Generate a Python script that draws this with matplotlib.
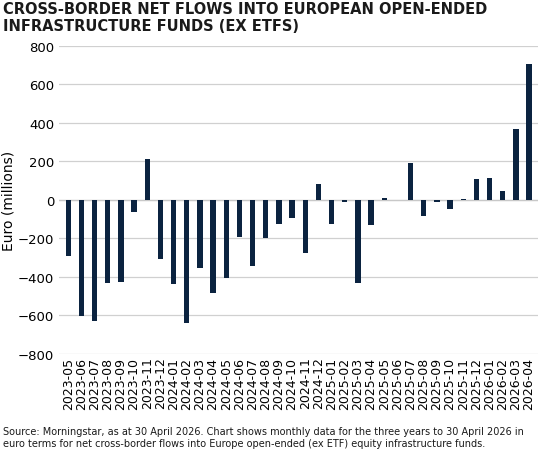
import matplotlib.pyplot as plt
import pandas as pd

months = pd.period_range("2023-05", "2026-04", freq="M").strftime("%Y-%m").tolist()
flows = [-290, -605, -630, -435, -430, -65, 210, -310, -440, -640, -355, -485,
         -405, -195, -345, -200, -125, -95, -275, 80, -125, -10, -435, -130,
         10, -2, 190, -85, -10, -50, 2, 105, 112, 47, 365, 705]

fig = plt.figure(figsize=(5.47, 4.56), dpi=100)
ax = fig.add_axes([0.108, 0.222, 0.876, 0.676])

ax.bar(range(len(months)), flows, width=0.4, color="#0b2340", zorder=3)
ax.set_ylim(-800, 800)
ax.set_yticks(range(-800, 801, 200))
ax.set_xlim(-0.7, len(months) - 0.3)
ax.set_xticks(range(len(months)))
ax.set_xticklabels(months, rotation=90, fontsize=9)
ax.tick_params(axis="y", labelsize=9.5, length=0)
ax.tick_params(axis="x", length=0, pad=2)
ax.grid(axis="y", color="#d0d0d0", linewidth=0.9, zorder=0)
for s in ax.spines.values():
    s.set_visible(False)
ax.axhline(0, color="#c8c8c8", linewidth=0.9, zorder=2)
ax.set_ylabel("Euro (millions)", fontsize=10, labelpad=2)

fig.text(0.005, 0.995, "CROSS-BORDER NET FLOWS INTO EUROPEAN OPEN-ENDED\nINFRASTRUCTURE FUNDS (EX ETFS)",
         fontsize=10.5, fontweight="bold", va="top", ha="left", color="#1a1a1a", linespacing=1.15)
fig.text(0.005, 0.015, "Source: Morningstar, as at 30 April 2026. Chart shows monthly data for the three years to 30 April 2026 in\n"
         "euro terms for net cross-border flows into Europe open-ended (ex ETF) equity infrastructure funds.",
         fontsize=7, va="bottom", ha="left", color="#1a1a1a", linespacing=1.3)

fig.savefig("out.png", dpi=100)
